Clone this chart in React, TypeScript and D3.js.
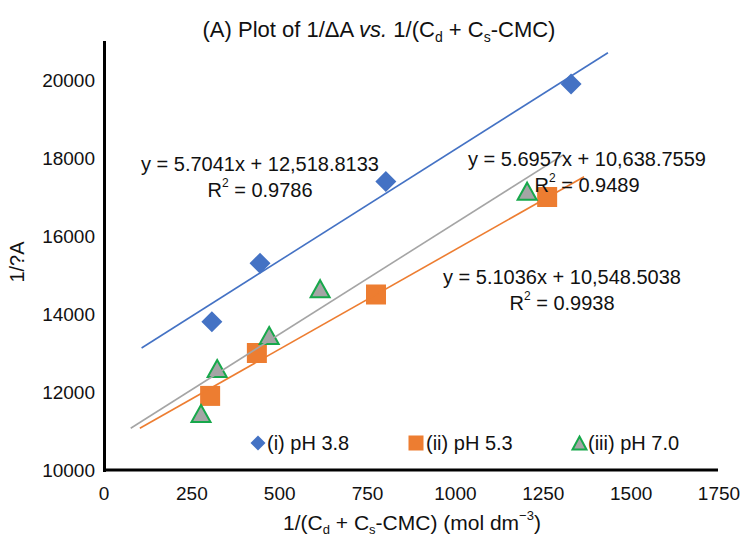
import React from "react";
import * as d3 from "d3";

const xTicks = [0, 250, 500, 750, 1000, 1250, 1500, 1750];
const yTicks = [10000, 12000, 14000, 16000, 18000, 20000];

const phA_x = [307, 444, 802, 1329];
const phA_y = [13800, 15300, 17400, 19900];
const phB_x = [302, 435, 774, 1261];
const phB_y = [11900, 13000, 14500, 17000];
const phC_x = [276, 322, 470, 615, 1204];
const phC_y = [11450, 12600, 13450, 14650, 17150];

// trendlines: slope, intercept, x-extent
const trendA = { m: 5.7041, b: 12518.8133, x0: 107, x1: 1434 };
const trendB = { m: 5.1036, b: 10548.5038, x0: 102, x1: 1366 };
const trendC = { m: 5.6957, b: 10638.7559, x0: 76, x1: 1309 };

const legendLabels = ["(i) pH 3.8", "(ii) pH 5.3", "(iii) pH 7.0"];

const BLUE = "#4472C4";
const ORANGE = "#ED7D31";
const GRAY = "#A5A5A5";
const GREEN = "#17A84B";
const FONT = "'Liberation Sans', Arial, Helvetica, sans-serif";

const W = 743;
const H = 537;

const x = d3.scaleLinear().domain([0, 1750]).range([104, 719]);
const y = d3.scaleLinear().domain([10000, 21000]).range([470, 41]);

function diamond(cx: number, cy: number, r: number) {
  return `M${cx},${cy - r}L${cx + r},${cy}L${cx},${cy + r}L${cx - r},${cy}Z`;
}
function triangle(cx: number, cy: number, w: number, h: number) {
  return `M${cx},${cy - h / 2}L${cx + w / 2},${cy + h / 2}L${cx - w / 2},${cy + h / 2}Z`;
}

function Trend({ t, color }: { t: { m: number; b: number; x0: number; x1: number }; color: string }) {
  const line = d3
    .line<number>()
    .x((d) => x(d))
    .y((d) => y(t.m * d + t.b));
  return <path d={line([t.x0, t.x1]) || ""} stroke={color} strokeWidth={1.6} fill="none" />;
}

function Eq({ cx, y0, eq, r2 }: { cx: number; y0: number; eq: string; r2: string }) {
  return (
    <g fontFamily={FONT} fontSize={20} fill="#111" textAnchor="middle">
      <text x={cx} y={y0}>{eq}</text>
      <text x={cx} y={y0 + 26}>
        R<tspan fontSize={12} dy={-10}>2</tspan>
        <tspan dy={10}> = {r2}</tspan>
      </text>
    </g>
  );
}

export default function App() {
  return (
    <svg
      width={W}
      height={H}
      style={{ position: "absolute", left: 0, top: 0, background: "#fff" }}
      fontFamily={FONT}
    >
      <rect width={W} height={H} fill="#fff" />
      {/* title */}
      <text x={379} y={37} fontSize={22} textAnchor="middle" fill="#111">
        (A) Plot of 1/ΔA <tspan fontStyle="italic">vs.</tspan> 1/(C
        <tspan fontSize={14} dy={5}>d</tspan>
        <tspan dy={-5}> + C</tspan>
        <tspan fontSize={14} dy={5}>s</tspan>
        <tspan dy={-5}>-CMC)</tspan>
      </text>

      {/* y tick labels */}
      {yTicks.map((t) => (
        <text key={t} x={95} y={y(t)} dy="0.36em" fontSize={19} textAnchor="end" fill="#111">
          {t}
        </text>
      ))}
      {/* x tick labels */}
      {xTicks.map((t) => (
        <text key={t} x={x(t)} y={500} fontSize={19} textAnchor="middle" fill="#111">
          {t}
        </text>
      ))}

      {/* axis titles */}
      <text
        transform={`translate(24,${262}) rotate(-90)`}
        fontSize={20}
        textAnchor="middle"
        fill="#111"
      >
        1/?A
      </text>
      <text x={412} y={530} fontSize={21} textAnchor="middle" fill="#111">
        1/(C<tspan fontSize={13} dy={4}>d</tspan>
        <tspan dy={-4}> + C</tspan>
        <tspan fontSize={13} dy={4}>s</tspan>
        <tspan dy={-4}>-CMC) (mol dm</tspan>
        <tspan fontSize={13} dy={-10}>−3</tspan>
        <tspan dy={10}>)</tspan>
      </text>

      {/* markers */}
      {phA_x.map((v, i) => (
        <path key={"a" + i} d={diamond(x(v), y(phA_y[i]), 10.5)} fill={BLUE} />
      ))}
      {phB_x.map((v, i) => (
        <rect key={"b" + i} x={x(v) - 10} y={y(phB_y[i]) - 10} width={20} height={20} fill={ORANGE} />
      ))}
      {phC_x.map((v, i) => (
        <path
          key={"c" + i}
          d={triangle(x(v), y(phC_y[i]), 19, 17)}
          fill={GRAY}
          stroke={GREEN}
          strokeWidth={2}
          strokeLinejoin="miter"
        />
      ))}

      {/* trendlines */}
      <Trend t={trendA} color={BLUE} />
      <Trend t={trendC} color={GRAY} />
      <Trend t={trendB} color={ORANGE} />

      {/* equations */}
      <Eq cx={260} y0={171} eq="y = 5.7041x + 12,518.8133" r2="0.9786" />
      <Eq cx={587} y0={166} eq="y = 5.6957x + 10,638.7559" r2="0.9489" />
      <Eq cx={562} y0={284} eq="y = 5.1036x + 10,548.5038" r2="0.9938" />

      {/* axes */}
      <line x1={104.5} x2={104.5} y1={41} y2={472} stroke="#000" strokeWidth={3} />
      <line x1={103} x2={718} y1={470} y2={470} stroke="#000" strokeWidth={3} />

      {/* legend */}
      <g fontSize={20} fill="#111">
        <path d={diamond(258, 443, 7.5)} fill={BLUE} />
        <text x={267} y={450}>{legendLabels[0]}</text>
        <rect x={408.5} y={435.5} width={15} height={15} fill={ORANGE} />
        <text x={426} y={450}>{legendLabels[1]}</text>
        <path d={triangle(579.5, 443, 14, 13)} fill={GRAY} stroke={GREEN} strokeWidth={2} />
        <text x={588} y={450}>{legendLabels[2]}</text>
      </g>
    </svg>
  );
}
